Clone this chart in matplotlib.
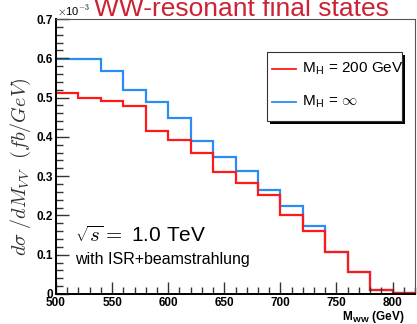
import matplotlib
matplotlib.use("Agg")
import matplotlib.pyplot as plt
import numpy as np
from matplotlib.ticker import MultipleLocator
from matplotlib.patches import Rectangle

bin_edges = [500, 520, 540, 560, 580, 600, 620, 640, 660, 680, 700, 720, 740, 760, 780, 800, 820]
red_vals = [0.512, 0.499, 0.491, 0.478, 0.415, 0.392, 0.359, 0.311, 0.282, 0.252, 0.201, 0.161, 0.107, 0.055, 0.009, 0.003]
blue_vals = [0.598, 0.598, 0.568, 0.520, 0.489, 0.448, 0.389, 0.348, 0.312, 0.265, 0.224, 0.174, 0.107, 0.055, 0.009, 0.003]
x_ticks = [500, 550, 600, 650, 700, 750, 800]
y_ticks = [0, 0.1, 0.2, 0.3, 0.4, 0.5, 0.6, 0.7]
labels = ["M$_\\mathregular{H}$ = 200 GeV", "M$_\\mathregular{H}$ = $\\infty$"]

W, H = 417, 324
fig = plt.figure(figsize=(W/100, H/100), dpi=100)
plt.rcParams['font.family'] = ['Liberation Sans', 'DejaVu Sans']
plt.rcParams['mathtext.fontset'] = 'cm'

left, right, top, bottom = 56, 415, 19, 294
ax = fig.add_axes([left/W, 1-bottom/H, (right-left)/W, (bottom-top)/H])

blue_c = '#2a8cf5'
red_c = '#ff1a1a'
ax.stairs(blue_vals, bin_edges, color=blue_c, lw=1.6, label=labels[1], baseline=None)
ax.stairs(red_vals, bin_edges, color=red_c, lw=1.6, label=labels[0], baseline=None)

ax.set_xlim(500, 820)
ax.set_ylim(0, 0.7)
ax.set_xticks(x_ticks)
ax.set_yticks(y_ticks)
ax.set_yticklabels(['0', '0.1', '0.2', '0.3', '0.4', '0.5', '0.6', '0.7'])
ax.xaxis.set_minor_locator(MultipleLocator(10))
ax.yaxis.set_minor_locator(MultipleLocator(0.02))
ax.tick_params(which='both', direction='in', top=False, right=False, width=1.0, color='#333333')
ax.tick_params(which='major', length=9, labelsize=8.5, pad=2)
ax.tick_params(which='minor', length=5)
for lab in ax.get_xticklabels() + ax.get_yticklabels():
    lab.set_fontweight('bold')
for s in ['left', 'bottom']:
    ax.spines[s].set_linewidth(1.4)
for s in ['top', 'right']:
    ax.spines[s].set_linewidth(0.8)
    ax.spines[s].set_color('#555555')

fig.text(57/W, 1-16/H, r'$\times$10$^{-3}$', fontsize=8, ha='left', va='baseline')
fig.text(241/W, 1-16/H, 'WW-resonant final states', color='#cc2233', fontsize=19, ha='center', va='baseline')

fig.text(21/W, 1-167/H, r'$d\sigma\ /dM_{VV}\ \ (fb/GeV)$', fontsize=14.5, rotation=90, ha='center', va='center', color='#333333')
fig.text(405/W, 1-320/H, r'M$_\mathregular{WW}$ (GeV)', fontsize=8.5, fontweight='bold', ha='right', va='baseline')

ax.text(517, 0.133, r'$\sqrt{s}=$ 1.0 TeV', fontsize=15, ha='left', va='baseline')
ax.text(517, 0.076, 'with ISR+beamstrahlung', fontsize=11.5, ha='left', va='baseline')

# legend box with shadow
bx0, by0, bx1, by1 = 267, 52, 402, 121
sh = 3
fig.patches.append(Rectangle(((bx0+sh)/W, 1-(by1+sh)/H), (bx1-bx0)/W, (by1-by0)/H,
                             transform=fig.transFigure, facecolor='black', edgecolor='none', zorder=5))
fig.patches.append(Rectangle((bx0/W, 1-by1/H), (bx1-bx0)/W, (by1-by0)/H,
                             transform=fig.transFigure, facecolor='white', edgecolor='#333333', lw=0.8, zorder=6))
for yy, col, lab in [(69, red_c, labels[0]), (102, blue_c, labels[1])]:
    fig.add_artist(plt.Line2D([272/W, 296/W], [1-yy/H, 1-yy/H], color=col, lw=1.3, zorder=7))
    fig.text(302/W, 1-yy/H, lab, fontsize=11, ha='left', va='center', zorder=7)

fig.savefig('out.png', dpi=100)
